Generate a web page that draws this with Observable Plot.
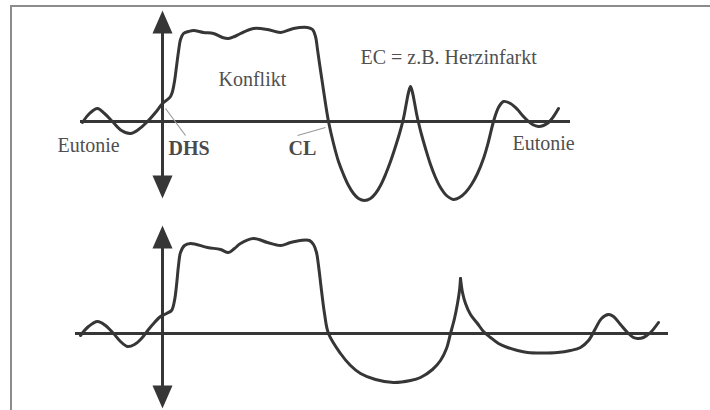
<!DOCTYPE html>
<html><head><meta charset="utf-8">
<script src="https://cdn.jsdelivr.net/npm/d3@7"></script>
<script src="https://cdn.jsdelivr.net/npm/@observablehq/plot@0.6"></script>
<style>
body{margin:0;background:#fff;}
#wrap{position:relative;width:710px;height:410px;overflow:hidden;background:#fff}
#wrap svg{display:block}
.frame-top{position:absolute;left:10px;top:5px;width:700px;height:2px;background:#8c8c8c;z-index:2}
.frame-left{position:absolute;left:10px;top:5px;width:2px;height:405px;background:#8c8c8c;z-index:2}
</style></head><body>
<div id="wrap"><div class="frame-top"></div><div class="frame-left"></div></div>
<script>
// ---- Data (time t, level v; v = 0 is the Eutonie baseline) ----
const topCurveT = [-80,-73,-65,-58,-50,-41,-32,-24,-15,-7,0,5,8,10,12,14,16,18,21,26,31,41,51,60,66,72,78,91,105,118,131,145,150,153,155,157,160,163,166,171,176,181,186,191,196,202,208,213,218,223,228,233,237,240,242,244,246,248,250,252,254,256,259,263,268,273,278,284,291,297,303,309,315,321,326,331,336,341,348,355,360,365,370,376,381,386,391,396];
const topCurveV = [-1,8,13,8,0,-9,-12,-8,0,9,18,22,25,30,40,55,70,82,88,90,91,89,88,84,83,85,88,93,92,89,93,94,92,85,72,58,38,18,0,-22,-40,-53,-64,-72,-77,-79,-77,-72,-64,-53,-40,-25,-12,-1,8,19,29,35,29,19,8,-1,-13,-27,-43,-56,-66,-74,-78,-76,-71,-63,-52,-37,-20,0,14,20,18,12,6,1,-3,-5,-4,-1,5,13];

const bottomCurveT = [-82,-74,-65,-57,-49,-42,-35,-28,-21,-14,-8,-2,4,9,12,14,16,18,22,28,45,58,66,72,78,91,105,118,128,138,147,151,154,156,159,162,166,178,188,198,213,231,248,258,270,278,284,288,292,295,297,298];
const bottomCurveV = [-2,7,12,8,0,-8,-13,-11,-5,4,11,17,20,23,33,48,68,81,88,90,86,84,81,85,90,95,91,88,91,93,93,89,81,68,43,20,0,-20,-32,-40,-46,-49,-47,-44,-36,-27,-15,0,15,30,43,55];
const bottomDecayT = [298,300,303,308,315,321,328,336,345,355,365,380,395,408,418,426,433,439,446,451,458,465,471,475,481,488,496];
const bottomDecayV = [55,41,30,19,10,2,-4,-10,-14,-17,-19,-19.5,-19,-17,-14,-7,5,15,19,17,9,1,-4,-5,-4,1,11];

const topBaselineT = [-82, 408];
const bottomBaselineT = [-87, 506];
const topAxisV = [-77, 111];
const bottomAxisV = [-75, 108];

const plainLabels = ["Konflikt", "EC = z.B. Herzinfarkt", "Eutonie", "Eutonie"];
const plainLabelT = [56, 198, -105, 350];
const plainLabelV = [41.5, 63.5, -24, -22];
const boldLabels = ["DHS", "CL"];
const boldLabelT = [6, 126];
const boldLabelV = [-27.5, -27.5];

const leaderT1 = [3, 135], leaderV1 = [13, -14];
const leaderT2 = [23, 163], leaderV2 = [-14, -6];

// ---- Drawing ----
const ink = "#363636";
const arrowHead = {draw(ctx) { ctx.moveTo(0, 0); ctx.lineTo(10, 23); ctx.lineTo(-10, 23); ctx.closePath(); }};
const curveStyle = {curve: "catmull-rom", stroke: ink, strokeWidth: 3, strokeLinejoin: "round", strokeLinecap: "round"};

function axisMarks(axisV, baseT) {
  return [
    Plot.ruleY([0], {x1: baseT[0], x2: baseT[1], stroke: ink, strokeWidth: 3}),
    Plot.ruleX([0], {y1: axisV[0] + 6, y2: axisV[1] - 6, stroke: ink, strokeWidth: 3}),
    Plot.dot([axisV[1]], {x: () => 0, y: d => d, symbol: arrowHead, fill: ink, stroke: "none"}),
    Plot.dot([axisV[0]], {x: () => 0, y: d => d, symbol: arrowHead, fill: ink, stroke: "none", rotate: 180})
  ];
}

const topPlot = Plot.plot({
  width: 710, height: 212, margin: 0,
  x: {domain: [-162, 548], axis: null},
  y: {domain: [-91, 121], axis: null},
  style: {background: "transparent", overflow: "visible"},
  marks: [
    ...axisMarks(topAxisV, topBaselineT),
    Plot.link(leaderT1.map((d, i) => i), {x1: i => leaderT1[i], y1: i => leaderV1[i], x2: i => leaderT2[i], y2: i => leaderV2[i], stroke: "#9a9a9a", strokeWidth: 1.2}),
    Plot.line(topCurveT.map((d, i) => i), {x: i => topCurveT[i], y: i => topCurveV[i], ...curveStyle}),
    Plot.text(plainLabels.map((d, i) => i), {
      x: i => plainLabelT[i], y: i => plainLabelV[i], text: i => plainLabels[i],
      textAnchor: "start", fontFamily: "Liberation Serif", fontSize: 20, fill: "#505050"
    }),
    Plot.text(boldLabels.map((d, i) => i), {
      x: i => boldLabelT[i], y: i => boldLabelV[i], text: i => boldLabels[i],
      textAnchor: "start", fontFamily: "Liberation Serif", fontSize: 20, fontWeight: "bold", fill: "#4a4a4a"
    })
  ]
});

const bottomPlot = Plot.plot({
  width: 710, height: 198, margin: 0,
  x: {domain: [-162, 548], axis: null},
  y: {domain: [-77, 121], axis: null},
  style: {background: "transparent", overflow: "visible"},
  marks: [
    ...axisMarks(bottomAxisV, bottomBaselineT),
    Plot.line(bottomCurveT.map((d, i) => i), {x: i => bottomCurveT[i], y: i => bottomCurveV[i], ...curveStyle}),
    Plot.line(bottomDecayT.map((d, i) => i), {x: i => bottomDecayT[i], y: i => bottomDecayV[i], ...curveStyle})
  ]
});

const wrap = document.getElementById("wrap");
wrap.insertBefore(bottomPlot, wrap.firstChild);
wrap.insertBefore(topPlot, wrap.firstChild);
</script>
</body></html>
